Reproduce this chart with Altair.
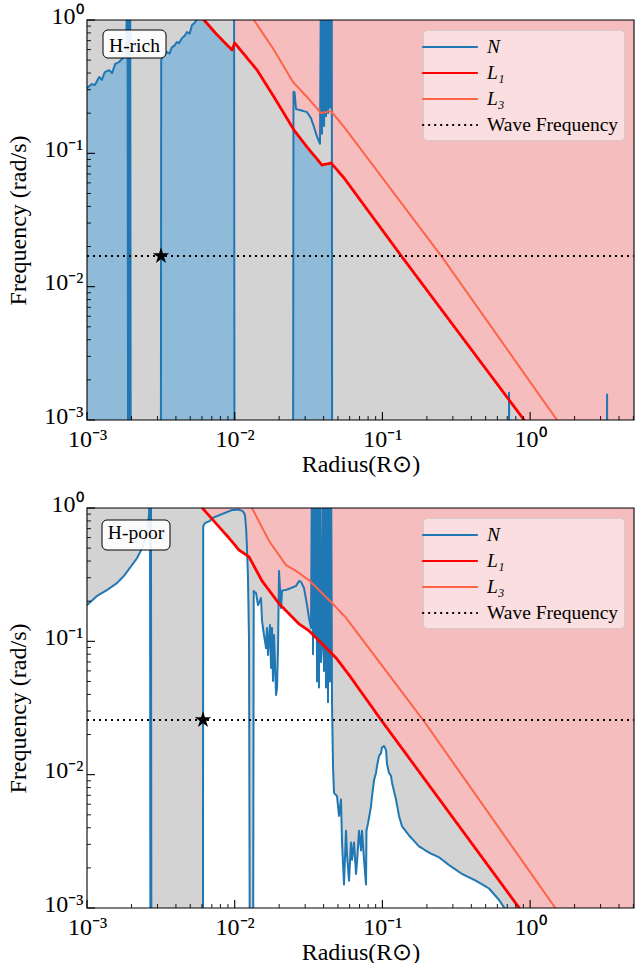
import altair as alt
import numpy as np
import pandas as pd

FONT = "Liberation Serif"
W, H = 547, 400

X_DOMAIN = [0.001, 5.05]
Y_DOMAIN = [0.001, 1.0]
Y_FLOOR, Y_CEIL = 1e-6, 1e3          # fill limits beyond the visible range
TICK_VALUES = [0.001, 0.01, 0.1, 1.0]
TICK_LABELS = ["10⁻³", "10⁻²", "10⁻¹", "10⁰"]
X_MINOR = [k * 10.0 ** e for e in (-3, -2, -1, 0) for k in range(2, 10) if k * 10.0 ** e <= 5.05]
Y_MINOR = [k * 10.0 ** e for e in (-3, -2, -1) for k in range(2, 10)]
X_TITLE = "Radius(R⊙)"
Y_TITLE = "Frequency (rad/s)"
SERIES = ["N", "L₁", "L₃", "Wave Frequency"]
SERIES_COLORS = ["#1f77b4", "#ff0000", "#ff6347", "#000000"]
SERIES_DASH = [[1, 0], [1, 0], [1, 0], [2, 4]]
PANEL_LABELS = ["H-rich", "H-poor"]

# ---------------- top panel (H-rich) ----------------
TOP_N = [(0.001, 0.309), (0.00108, 0.331), (0.00113, 0.325), (0.00121, 0.374), (0.00126, 0.355),
         (0.00132, 0.407), (0.00141, 0.42), (0.00148, 0.40), (0.00155, 0.468), (0.00165, 0.484),
         (0.00175, 0.519), (0.00184, 0.537), (0.00188, 3), (0.00190, 1e-4), (0.00192, 3),
         (0.00194, 1e-4), (0.00196, 3), (0.00198, 1e-4), (0.00316, 1e-4), (0.00318, 0.50),
         (0.00322, 0.52), (0.00335, 0.55), (0.00348, 0.575), (0.00362, 0.56), (0.00376, 0.627),
         (0.00390, 0.64), (0.00406, 0.684), (0.00420, 0.67), (0.00440, 0.733), (0.00458, 0.76),
         (0.00475, 0.813), (0.00495, 0.79), (0.00514, 0.917), (0.00535, 0.95), (0.00556, 1.02),
         (0.00570, 2), (0.00990, 2), (0.00997, 1e-4), (0.02480, 1e-4), (0.02500, 0.288),
         (0.02540, 0.288), (0.02600, 0.215), (0.02730, 0.212), (0.02900, 0.208), (0.03080, 0.204),
         (0.03280, 0.184), (0.03440, 0.158), (0.03610, 0.133), (0.03780, 0.118), (0.03840, 3),
         (0.03900, 0.14), (0.03960, 3), (0.04030, 0.16), (0.04090, 3), (0.04150, 0.19),
         (0.04220, 3), (0.04290, 0.20), (0.04350, 3), (0.04420, 0.22), (0.04490, 3),
         (0.04540, 3), (0.04570, 1e-4), (0.7150, 1e-4), (0.7200, 0.0016), (0.7250, 1e-4),
         (3.300, 1e-4), (3.320, 0.00155), (3.340, 1e-4), (5.05, 1e-4)]
TOP_L1 = [(0.0053, 1.25), (0.0062, 1.0), (0.0074, 0.80), (0.00847, 0.684), (0.0096, 0.596),
          (0.0100, 0.672), (0.01416, 0.4217), (0.01845, 0.2645), (0.0252, 0.1496),
          (0.03087, 0.1115), (0.0390, 0.0817), (0.0449, 0.0846), (0.0550, 0.0653),
          (0.1358, 0.0167), (0.881, 0.00105), (1.0, 0.00085)]
TOP_L3 = [(0.0120, 1.25), (0.0135, 1.0), (0.01845, 0.596), (0.0248, 0.343), (0.03087, 0.2645),
          (0.0384, 0.2005), (0.0449, 0.207), (0.0550, 0.1576), (0.2532, 0.0167),
          (1.52, 0.001), (1.7, 0.0008)]
TOP_WAVE = 0.017
TOP_STAR = (0.00317, 0.017)

# ---------------- bottom panel (H-poor) ----------------
BOT_N = [(0.001, 0.187), (0.00117, 0.219), (0.00137, 0.243), (0.00160, 0.274), (0.00178, 0.31),
         (0.00195, 0.355), (0.00218, 0.42), (0.00236, 0.50), (0.00251, 0.60), (0.00259, 0.75),
         (0.00263, 0.90), (0.00267, 1.5), (0.00269, 1e-4), (0.00271, 1.5), (0.00273, 1e-4),
         (0.00609, 1e-4), (0.00612, 0.73), (0.00629, 0.77), (0.00680, 0.80), (0.00702, 0.84),
         (0.00820, 0.90), (0.00958, 0.966), (0.01069, 0.97), (0.01130, 0.95), (0.01156, 0.92),
         (0.01174, 0.88), (0.01195, 0.70), (0.01211, 0.50), (0.01230, 0.30), (0.01250, 0.10),
         (0.01269, 1e-4), (0.01330, 1e-4), (0.01345, 0.238), (0.01394, 0.23), (0.01438, 0.187),
         (0.01507, 0.211), (0.01531, 0.142), (0.01579, 0.1115), (0.01629, 0.089), (0.01655, 0.126),
         (0.01681, 0.079), (0.01734, 0.1325), (0.01762, 0.063), (0.01789, 0.1258), (0.01817, 0.0504),
         (0.01846, 0.1115), (0.01905, 0.0396), (0.01934, 0.0446), (0.01965, 0.0891), (0.01995, 0.337),
         (0.02059, 0.178), (0.02091, 0.240), (0.02225, 0.243), (0.02406, 0.251), (0.02600, 0.260),
         (0.02725, 0.2835), (0.02812, 0.279), (0.02946, 0.251), (0.03087, 0.187), (0.03184, 0.150),
         (0.03286, 0.126), (0.03338, 3), (0.0339, 0.08), (0.03443, 3), (0.0350, 0.11),
         (0.03552, 3), (0.0361, 0.05), (0.03664, 3), (0.0372, 0.045), (0.03780, 3), (0.0384, 0.07),
         (0.03900, 0.09), (0.0396, 3), (0.04023, 0.06), (0.0409, 3), (0.04150, 0.045), (0.0421, 3),
         (0.04282, 0.035), (0.0435, 3), (0.04417, 0.05), (0.0449, 3), (0.04558, 0.0344),
         (0.04629, 0.0116), (0.04702, 0.0073), (0.04927, 0.0069), (0.05083, 0.0049), (0.05244, 0.0065),
         (0.05327, 0.0031), (0.05495, 0.0015), (0.05670, 0.0038), (0.05759, 0.0025), (0.05941, 0.0016),
         (0.06129, 0.0031), (0.06226, 0.0023), (0.06423, 0.0031), (0.06626, 0.0018), (0.06730, 0.0022),
         (0.06943, 0.0038), (0.07163, 0.0027), (0.07276, 0.0038), (0.07506, 0.0023), (0.07745, 0.0015),
         (0.0780, 0.0038), (0.07988, 0.0043), (0.08372, 0.0058), (0.08504, 0.0069), (0.08773, 0.0091),
         (0.09051, 0.0103), (0.09193, 0.0116), (0.09484, 0.0138), (0.09784, 0.0145), (0.09938, 0.0160),
         (0.10252, 0.0164), (0.10578, 0.0153), (0.10744, 0.0120), (0.11084, 0.0103), (0.11435, 0.0098),
         (0.11614, 0.0087), (0.12362, 0.0065), (0.12953, 0.0049), (0.13573, 0.0041), (0.15142, 0.0035),
         (0.17694, 0.0029), (0.20677, 0.0026), (0.24162, 0.0024), (0.28236, 0.0021), (0.34589, 0.0018),
         (0.43025, 0.0016), (0.52689, 0.0014), (0.61572, 0.00115), (0.68660, 0.00096), (0.76, 0.0007),
         (5.05, 1e-4)]
BOT_L1 = [(0.0053, 1.2), (0.0062, 0.966), (0.00915, 0.596), (0.01069, 0.484), (0.0125, 0.43),
          (0.01531, 0.2835), (0.01995, 0.192), (0.02725, 0.135), (0.03184, 0.12), (0.0435, 0.085),
          (0.0486, 0.075), (0.0594, 0.056), (0.0993, 0.0252), (0.867, 0.00096), (1.0, 0.00078)]
BOT_L3 = [(0.0115, 1.25), (0.0131, 1.0), (0.0171, 0.565), (0.02225, 0.373), (0.0260, 0.337),
          (0.0318, 0.288), (0.0390, 0.23), (0.0456, 0.194), (0.0567, 0.15), (0.191, 0.0252),
          (1.52, 0.00096), (1.7, 0.00078)]
BOT_WAVE = 0.0257
BOT_STAR = (0.0061, 0.0257)

STAR_PATH = ("M0,-1L0.2245,-0.309L0.951,-0.309L0.363,0.118L0.588,0.809L0,0.382"
             "L-0.588,0.809L-0.363,0.118L-0.951,-0.309L-0.2245,-0.309Z")


def label_expr():
    parts = []
    for i in range(len(TICK_VALUES) - 1):
        thr = (TICK_VALUES[i] * TICK_VALUES[i + 1]) ** 0.5
        parts.append(f"datum.value < {thr} ? '{TICK_LABELS[i]}' : ")
    return "".join(parts) + f"'{TICK_LABELS[-1]}'"


XS = alt.Scale(type="log", domain=X_DOMAIN, nice=False)
YS = alt.Scale(type="log", domain=Y_DOMAIN, nice=False)
X_AXIS = alt.Axis(values=TICK_VALUES, labelExpr=label_expr(), title=X_TITLE, labelFlush=False,
                  labelOverlap=False, labelPadding=7, titlePadding=1, ticks=False, domain=False,
                  grid=False)
Y_AXIS = alt.Axis(values=TICK_VALUES, labelExpr=label_expr(), title=Y_TITLE, labelFlush=False,
                  labelOverlap=False, labelPadding=4, titlePadding=13, labelOffset=-4,
                  ticks=False, domain=False, grid=False)

LEGEND = alt.Legend(orient="top-right", offset=10, padding=5, rowPadding=4,
                    symbolType="M-2.65,0H2.65", symbolSize=441, symbolStrokeWidth=2.2,
                    symbolOffset=10, labelOffset=25,
                    labelFont=FONT, labelFontSize=19.5, labelColor="black",
                    labelLimit=300, fillColor="rgba(255,255,255,0.5)",
                    strokeColor="rgba(200,200,200,0.7)", cornerRadius=4,
                    labelFontStyle=alt.ExprRef("datum.label == 'Wave Frequency' ? 'normal' : 'italic'"))


def fill_table(N, L):
    nx, ny = np.array(N).T
    lx, ly = np.array(L).T
    xs = np.union1d(nx, lx)
    lxs = np.log10(xs)
    n = np.interp(lxs, np.log10(nx), np.log10(ny))
    l = np.interp(lxs, np.log10(lx), np.log10(ly))
    return pd.DataFrame({"x": xs, "lo": 10 ** np.minimum(n, l), "hi": 10 ** np.maximum(n, l),
                         "floor": Y_FLOOR, "ceil": Y_CEIL})


def X(field):
    return alt.X(field, scale=XS, axis=X_AXIS)


def Y(field):
    return alt.Y(field, scale=YS, axis=Y_AXIS)


def panel(N, L1, L3, wave, star, label, blue, box):
    fills = fill_table(N, L1)
    layers = []
    if blue:
        layers.append(alt.Chart(fills).mark_area(color="#8fbbd9", clip=True).encode(
            x=X("x:Q"), y=Y("floor:Q"), y2=alt.Y2("lo:Q")))
    layers.append(alt.Chart(fills).mark_area(color="#d3d3d3", clip=True).encode(
        x=X("x:Q"), y=Y("lo:Q"), y2=alt.Y2("hi:Q")))
    layers.append(alt.Chart(fills).mark_area(color="#f6bdbf", clip=True).encode(
        x=X("x:Q"), y=Y("hi:Q"), y2=alt.Y2("ceil:Q")))

    series_data = [
        (SERIES[0], N, 2.0),
        (SERIES[1], L1, 2.8),
        (SERIES[2], L3, 2.0),
        (SERIES[3], [(X_DOMAIN[0], wave), (X_DOMAIN[1], wave)], 2.0),
    ]
    for name, pts, sw in series_data:
        df = pd.DataFrame(pts, columns=["x", "y"])
        df["series"] = name
        df["i"] = range(len(df))
        layers.append(alt.Chart(df).mark_line(strokeWidth=sw, clip=True, strokeJoin="round",
                                              strokeCap="butt").encode(
            x=X("x:Q"), y=Y("y:Q"),
            order=alt.Order("i:Q"),
            color=alt.Color("series:N", scale=alt.Scale(domain=SERIES, range=SERIES_COLORS),
                            legend=LEGEND, title=None),
            strokeDash=alt.StrokeDash("series:N", scale=alt.Scale(domain=SERIES, range=SERIES_DASH),
                                      legend=LEGEND, title=None)))

    sdf = pd.DataFrame({"x": [star[0]], "y": [star[1]]})
    layers.append(alt.Chart(sdf).mark_point(shape=STAR_PATH, size=300, filled=True, color="black",
                                            opacity=1, clip=True).encode(
        x=X("x:Q"), y=Y("y:Q")))

    # ticks (inward, matplotlib style)
    xmaj = pd.DataFrame({"x": TICK_VALUES})
    xmin = pd.DataFrame({"x": X_MINOR})
    ymaj = pd.DataFrame({"y": TICK_VALUES})
    ymin = pd.DataFrame({"y": Y_MINOR})
    layers.append(alt.Chart(xmaj).mark_rule(color="black", strokeWidth=1.1).encode(
        x=X("x:Q"), y=alt.value(H), y2=alt.value(H - 8)))
    layers.append(alt.Chart(xmin).mark_rule(color="black", strokeWidth=0.9).encode(
        x=X("x:Q"), y=alt.value(H), y2=alt.value(H - 4)))
    layers.append(alt.Chart(ymaj).mark_rule(color="black", strokeWidth=1.1).encode(
        y=Y("y:Q"), x=alt.value(0), x2=alt.value(8)))
    layers.append(alt.Chart(ymin).mark_rule(color="black", strokeWidth=0.9).encode(
        y=Y("y:Q"), x=alt.value(0), x2=alt.value(4)))

    # panel label box
    ldf = pd.DataFrame({"label": [label]})
    bx0, bx1, by0, by1, tx, ty = box
    layers.append(alt.Chart(ldf).mark_rect(fill="white", fillOpacity=0.9, stroke="black",
                                           strokeWidth=1, cornerRadius=5).encode(
        x=alt.value(bx0), x2=alt.value(bx1), y=alt.value(by0), y2=alt.value(by1)))
    layers.append(alt.Chart(ldf).mark_text(font=FONT, fontSize=19.5, align="center",
                                           baseline="alphabetic", color="black").encode(
        x=alt.value(tx), y=alt.value(ty), text="label:N"))

    # frame (spines)
    layers.append(alt.Chart(ldf).mark_rect(fill="transparent", stroke="black", strokeWidth=1.1).encode(
        x=alt.value(0), x2=alt.value(W), y=alt.value(0), y2=alt.value(H)))

    return alt.layer(*layers).properties(width=W, height=H)


top = panel(TOP_N, TOP_L1, TOP_L3, TOP_WAVE, TOP_STAR, PANEL_LABELS[0], True,
            (16, 79, 10, 38, 47.5, 32))
bottom = panel(BOT_N, BOT_L1, BOT_L3, BOT_WAVE, BOT_STAR, PANEL_LABELS[1], False,
               (15, 83, 12, 42, 49, 31))

chart = alt.vconcat(top, bottom, spacing=16).resolve_scale(
    color="independent", strokeDash="independent", x="independent", y="independent"
).properties(
    padding={"left": 6, "top": 4, "right": 1, "bottom": 0},
    background="white",
).configure_axis(
    labelFont=FONT, titleFont=FONT, labelFontSize=24, titleFontSize=24,
    titleFontWeight="normal", labelColor="black", titleColor="black",
).configure_view(strokeWidth=0)

chart.save("out.html", embed_options={"renderer": "svg", "actions": False})
